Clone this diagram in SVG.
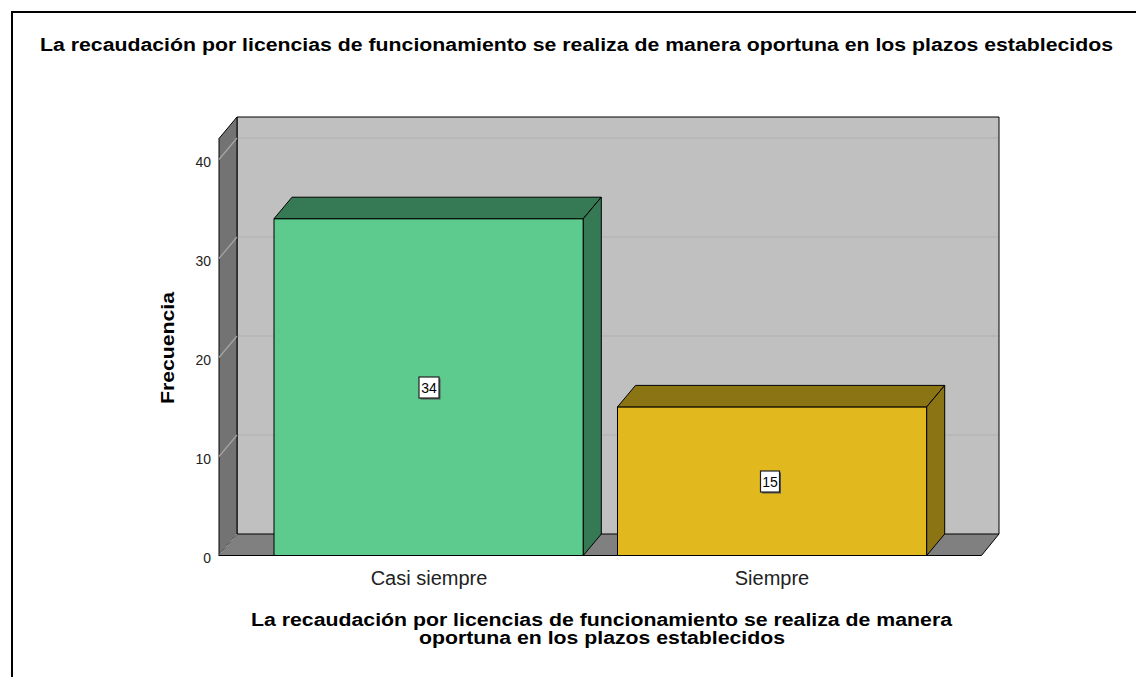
<svg xmlns="http://www.w3.org/2000/svg" width="1136" height="677" viewBox="0 0 1136 677">
<style>
.t{font-family:"Liberation Sans",Arial,sans-serif;fill:#000}
.b{font-weight:bold}
.tick{font-size:14px;text-anchor:end;fill:#222}
.cat{font-size:20px;text-anchor:middle;fill:#222}
.edge{stroke:#000;stroke-width:1;stroke-linejoin:round}
.gb{stroke:#b0b0b0;stroke-width:1.2}
.gs{stroke:#a6a6a6;stroke-width:1.2}
.vbox{fill:#fff;stroke:#222;stroke-width:1.2}
.vsh{fill:#555}
.val{font-size:14px;text-anchor:middle}
</style>
<rect x="0" y="0" width="1136" height="677" fill="#fff"/>
<rect x="12" y="12" width="1140" height="680" fill="none" stroke="#000" stroke-width="2"/>
<text class="t b" x="576.5" y="51" font-size="17.5" text-anchor="middle" textLength="1073" lengthAdjust="spacingAndGlyphs">La recaudación por licencias de funcionamiento se realiza de manera oportuna en los plazos establecidos</text>

<g id="frame3d">
  <polygon points="237,117 999,117 999,534 237,534" fill="#c0c0c0"/>
  <line class="gb" x1="237" y1="435" x2="999" y2="435"/>
  <line class="gb" x1="237" y1="336" x2="999" y2="336"/>
  <line class="gb" x1="237" y1="237" x2="999" y2="237"/>
  <line class="gb" x1="237" y1="138" x2="999" y2="138"/>
  <polyline class="edge" points="237,534 237,117 999,117 999,534" fill="none"/>
  <polygon class="edge" points="219,555.5 219,138.5 237,117 237,534" fill="#737373"/>
  <line class="gs" x1="219" y1="456.5" x2="237" y2="435"/>
  <line class="gs" x1="219" y1="357.5" x2="237" y2="336"/>
  <line class="gs" x1="219" y1="258.5" x2="237" y2="237"/>
  <line class="gs" x1="219" y1="159.5" x2="237" y2="138"/>
  <polygon class="edge" points="219,555.5 981.5,555.5 999,534 237,534" fill="#808080"/>
  <line x1="219.5" y1="555" x2="237" y2="534" stroke="#a6a6a6" stroke-width="1"/>
</g>

<g id="axis-y">
  <text class="t tick" x="211" y="563">0</text>
  <text class="t tick" x="211" y="464">10</text>
  <text class="t tick" x="211" y="365">20</text>
  <text class="t tick" x="211" y="266">30</text>
  <text class="t tick" x="211" y="167">40</text>
  <text class="t b" transform="translate(174,348) rotate(-90)" font-size="17.5" text-anchor="middle" textLength="112" lengthAdjust="spacingAndGlyphs">Frecuencia</text>
</g>

<g id="bar-casi-siempre">
  <rect class="edge" x="274" y="218.7" width="309.3" height="336.8" fill="#5ccb8d"/>
  <polygon class="edge" points="274,218.7 583.3,218.7 601.3,197.2 292,197.2" fill="#357a55"/>
  <polygon class="edge" points="583.3,218.7 601.3,197.2 601.3,534 583.3,555.5" fill="#357a55"/>
  <rect class="vsh" x="420.5" y="378.5" width="20" height="21"/>
  <rect class="vbox" x="419" y="377" width="20" height="21"/>
  <text class="t val" x="429" y="392.5">34</text>
</g>

<g id="bar-siempre">
  <rect class="edge" x="617.5" y="406.9" width="309.2" height="148.6" fill="#e1b91f"/>
  <polygon class="edge" points="617.5,406.9 926.7,406.9 944.7,385.4 635.5,385.4" fill="#8b7413"/>
  <polygon class="edge" points="926.7,406.9 944.7,385.4 944.7,534 926.7,555.5" fill="#8b7413"/>
  <rect class="vsh" x="762" y="472.5" width="19" height="21"/>
  <rect class="vbox" x="760.5" y="471" width="19" height="21"/>
  <text class="t val" x="770" y="486.5">15</text>
</g>

<g id="axis-x">
  <text class="t cat" x="429" y="585">Casi siempre</text>
  <text class="t cat" x="772" y="585">Siempre</text>
  <text class="t b" x="601.5" y="626" font-size="17.5" text-anchor="middle" textLength="701" lengthAdjust="spacingAndGlyphs">La recaudación por licencias de funcionamiento se realiza de manera</text>
  <text class="t b" x="602" y="644" font-size="17.5" text-anchor="middle" textLength="366" lengthAdjust="spacingAndGlyphs">oportuna en los plazos establecidos</text>
</g>
</svg>
